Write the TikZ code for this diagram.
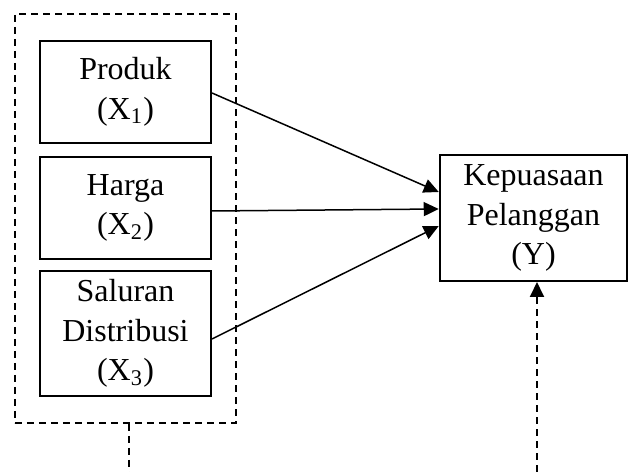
\documentclass[tikz,border=0pt]{standalone}
\usepackage{fontspec}
\setmainfont{Liberation Serif}
\usepackage{tikz}
\usetikzlibrary{shapes,arrows,positioning,fit}
\usetikzlibrary{arrows.meta}
\tikzstyle{varbox} = [rectangle, minimum width=68.4pt, minimum height=40.8pt, text centered, draw=black, line width=0.8pt, align=center, font=\fontsize{12.8}{15.8}\selectfont]
\tikzstyle{arrow} = [line width=0.6pt,-{Triangle[length=6pt,width=5.6pt]}]
\tikzstyle{dashline} = [line width=0.75pt, dash pattern=on 2.8pt off 2pt]

\begin{document}
\begin{tikzpicture}[x=0.4pt, y=-0.4pt]
    \useasboundingbox (0,0) rectangle (629,472);

      % Nodes
    \node (produk) [varbox] at (125.5,92) {Produk\\(X\textsubscript{1})};
    \node (harga) [varbox, below=4.8pt of produk] {Harga\\(X\textsubscript{2})};
    \node (saluran) [varbox, minimum height=50pt, below=4pt of harga] {Saluran\\Distribusi\\(X\textsubscript{3})};
    \node (kepuasan) [varbox, minimum width=75pt, minimum height=50.4pt] at (533.5,218) {Kepuasaan\\Pelanggan\\(Y)};
    \node (grup) [dashline, draw, inner xsep=9.6pt, inner ysep=10.4pt, fit=(produk) (harga) (saluran)] {};
    \coordinate (bawahx) at (129,472);
    \coordinate (bawahy) at (537,472);

    % Arrows
    \draw[arrow] ([yshift=-0.4pt]produk.east) -- ([yshift=10.4pt]kepuasan.west);
    \draw[arrow] ([yshift=-1.2pt]harga.east) -- ([yshift=3.6pt]kepuasan.west);
    \draw[arrow] ([yshift=-2.2pt]saluran.east) -- ([yshift=-3.2pt]kepuasan.west);
    \draw[dashline] (grup.south -| bawahx) -- (bawahx);
    \draw[dashline, -{Triangle[length=6pt,width=5.6pt]}] (bawahy) -- (kepuasan.south -| bawahy);

    \end{tikzpicture}
\end{document}
